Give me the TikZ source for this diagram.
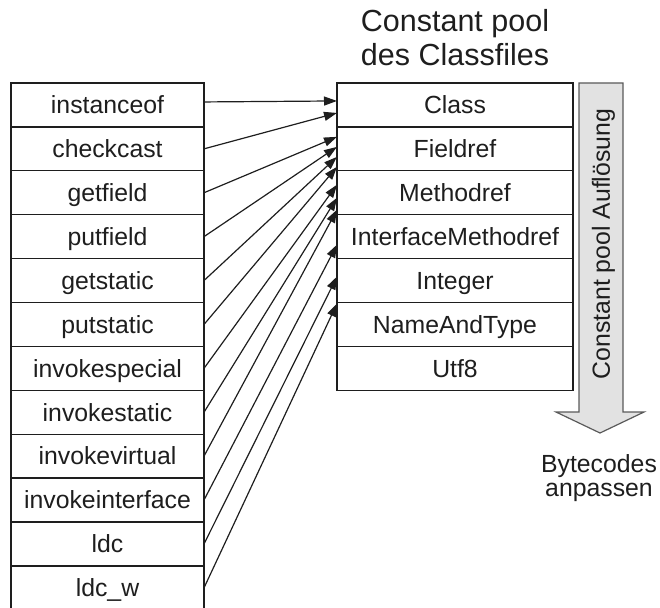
\documentclass[tikz,border=0pt]{standalone}
\usepackage{fontspec}
\setmainfont{Liberation Sans}
\usetikzlibrary{arrows.meta}

\definecolor{ink}{HTML}{1E1E1E}
\definecolor{framegray}{HTML}{5A5A5A}
\definecolor{bandfill}{HTML}{E2E2E2}

\tikzset{
  cell/.style={draw=ink, line width=1.3pt, inner sep=0pt, outer sep=0pt,
    minimum height=43.9pt, text height=17.6pt, text depth=0pt, text=ink,
    font=\fontsize{24.8}{28}\selectfont},
  opcell/.style={cell, minimum width=193pt},
  poolcell/.style={cell, minimum width=236pt},
  ref/.style={draw=ink, line width=1.2pt,
    -{Triangle[length=13pt,width=9pt]}},
  caption/.style={text=ink, inner sep=0pt, anchor=base}
}

\begin{document}
\begin{tikzpicture}[x=1pt, y=-1pt]
\useasboundingbox (0,0) rectangle (660,607);

% opcode column
\foreach \name [count=\i] in {instanceof, checkcast, getfield, putfield,
    getstatic, putstatic, invokespecial, invokestatic, invokevirtual,
    invokeinterface, ldc, ldc\_w}
  \node[opcell] (L\i) at (107.5, {83 + 43.9*(\i-0.5)}) {\name};

% constant pool entries
\foreach \name [count=\i] in {Class, Fieldref, Methodref,
    InterfaceMethodref, Integer, NameAndType, Utf8}
  \node[poolcell] (R\i) at (455, {83 + 43.9*(\i-0.5)}) {\name};

% heading
\node[caption, font=\fontsize{30.5}{34}\selectfont] (head1) at (455,32) {Constant pool};
\node[caption, font=\fontsize{30.5}{34}\selectfont] (head2) at (455,66) {des Classfiles};

% resolution arrow
\draw[draw=framegray, fill=bandfill, line width=1.2pt]
  (579,83) -- (623,83) -- (623,412) -- (644,412) -- (600,433)
  -- (556,412) -- (579,412) -- cycle;
\node[text=ink, rotate=90, inner sep=0pt, text height=17.6pt, text depth=0pt,
  font=\fontsize{24.8}{28}\selectfont] (band) at (601,244)
  {Constant pool Auflösung};

\node[caption, font=\fontsize{24.8}{28}\selectfont] (bc1) at (599,472) {Bytecodes};
\node[caption, font=\fontsize{24.8}{28}\selectfont] (bc2) at (599,496) {anpassen};

% references from opcodes into the pool
\draw[ref] ([yshift=3pt]L1.east) -- ([yshift=4pt]R1.west);
\draw[ref] (L2.east) -- ([yshift=-8pt]R1.west);
\draw[ref] (L3.east) -- ([yshift=12pt]R2.west);
\draw[ref] (L4.east) -- ([yshift=2pt]R2.west);
\draw[ref] (L5.east) -- ([yshift=-8pt]R2.west);
\draw[ref] (L6.east) -- ([yshift=-18pt]R2.west);
\draw[ref] (L7.east) -- ([yshift=8pt]R3.west);
\draw[ref] (L8.east) -- ([yshift=-5pt]R3.west);
\draw[ref] (L9.east) -- ([yshift=-17pt]R3.west);
\draw[ref] (L10.east) -- ([yshift=-8pt]R4.west);
\draw[ref] (L11.east) -- ([yshift=4pt]R5.west);
\draw[ref] (L12.east) -- ([yshift=-1pt]R5.south west);
\end{tikzpicture}
\end{document}
